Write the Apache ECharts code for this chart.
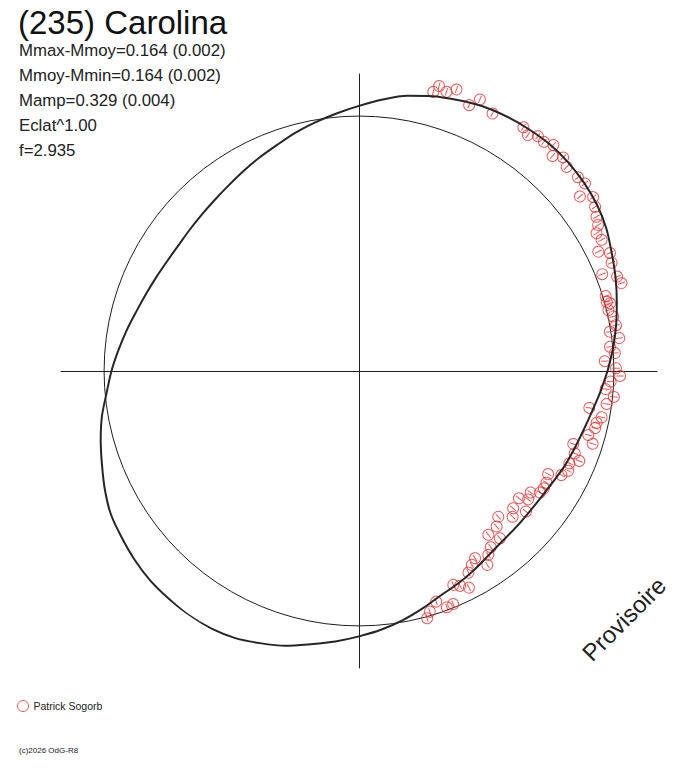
<!DOCTYPE html>
<html>
<head>
<meta charset="utf-8">
<script src="https://cdn.jsdelivr.net/npm/echarts@6/dist/echarts.min.js"></script>
<style>
html,body{margin:0;padding:0;background:#fff;}
#chart{width:688px;height:768px;}
</style>
</head>
<body>
<div id="chart"></div>
<script>
// Title and statistics
var titleText = '(235) Carolina';
var statLines = ['Mmax-Mmoy=0.164 (0.002)', 'Mmoy-Mmin=0.164 (0.002)', 'Mamp=0.329 (0.004)', 'Eclat^1.00', 'f=2.935'];
var observer = 'Patrick Sogorb';
var stampText = 'Provisoire';
var footerText = '(c)2026 OdG-R8';

// Model light curve (phase in degrees, relative radius; reference circle = 1)
var curvePhase = [0,5,10,15,20,25,30,35,40,45,50,55,60,65,70,75,80,85,90,95,100,105,110,115,120,125,130,135,140,145,150,155,160,165,170,175,180,185,190,195,200,205,210,215,220,225,230,235,240,245,250,255,260,265,270,275,280,285,290,295,300,305,310,315,320,325,330,335,340,345,350,355,360];
var curveRadius = [0.975,1.000,1.024,1.047,1.071,1.094,1.120,1.139,1.151,1.159,1.162,1.159,1.154,1.146,1.131,1.116,1.096,1.069,1.040,1.014,0.990,0.967,0.943,0.924,0.906,0.890,0.878,0.870,0.865,0.863,0.867,0.876,0.888,0.904,0.925,0.947,0.971,0.994,1.024,1.049,1.073,1.100,1.124,1.137,1.150,1.160,1.164,1.168,1.165,1.155,1.136,1.116,1.088,1.065,1.041,1.018,0.992,0.964,0.937,0.920,0.902,0.884,0.873,0.869,0.867,0.869,0.876,0.888,0.898,0.910,0.927,0.950,0.975];

// Observations
var obsPhase = [75.1,74.3,72.6,70.9,69.1,67.5,66.0,64.5,62.6,61.0,59.2,57.6,56.0,54.4,52.7,51.1,49.3,48.0,46.3,44.5,43.0,41.5,39.7,38.3,36.6,34.8,33.0,31.4,30.1,28.4,26.5,25.2,23.2,21.7,20.1,18.5,16.9,15.1,15.6,13.7,12.1,10.1,8.9,7.2,5.5,4.0,2.3,0.6,358.9,357.6,355.8,354.2,352.4,350.9,349.2,347.7,346.4,344.4,342.7,341.2,339.1,337.8,336.3,334.5,332.8,331.4,329.2,327.6,326.1,324.7,321.5,322.8,318.3,316.5,319.9,313.7,311.5,308.3,310.1,306.8,305.1,301.8,300.2,303.5,298.5,293.8,295.2,296.9,288.5,292.0,290.4,286.4,285.4];
var obsRadius = [1.133,1.161,1.148,1.169,1.175,1.129,1.166,1.199,1.138,1.182,1.183,1.178,1.153,1.138,1.158,1.155,1.169,1.135,1.159,1.142,1.175,1.147,1.152,1.104,1.144,1.128,1.111,1.099,1.077,1.082,1.049,1.088,1.078,1.027,1.078,1.086,1.011,1.020,1.009,1.007,1.020,1.024,0.996,1.029,0.989,1.006,0.965,1.008,1.024,0.988,0.970,1.005,0.980,0.915,0.969,0.954,0.953,0.934,0.960,0.888,0.906,0.933,0.901,0.909,0.893,0.845,0.856,0.859,0.855,0.825,0.802,0.833,0.810,0.831,0.856,0.791,0.815,0.819,0.858,0.863,0.882,0.864,0.880,0.912,0.900,0.917,0.931,0.953,0.954,0.986,0.989,0.984,1.006];

var radiusMax = 1.169;
var RED = '#f02a2a';
var INK = '#1e1e1e';
var FONT = '"Liberation Sans", Arial, sans-serif';

var curveData = curvePhase.map(function (p, i) { return [curveRadius[i], p]; });
var obsData = obsPhase.map(function (p, i) {
  return { value: [obsRadius[i], p], symbolRotate: p };
});

var chart = echarts.init(document.getElementById('chart'), null, { renderer: 'svg' });
chart.setOption({
  backgroundColor: '#fff',
  animation: false,
  title: [
    { text: titleText, left: 18, top: 5, padding: 0,
      textStyle: { fontFamily: FONT, fontSize: 33, lineHeight: 34, fontWeight: 'normal', color: '#111' } },
    { text: statLines.join('\n'), left: 19, top: 38, padding: 0,
      textStyle: { fontFamily: FONT, fontSize: 16.8, lineHeight: 25, fontWeight: 'normal', color: '#222' } }
  ],
  legend: {
    left: 17, top: 700, padding: 0, itemWidth: 11, itemHeight: 11, selectedMode: false,
    textStyle: { fontFamily: FONT, fontSize: 10.5, color: '#222' },
    data: [{ name: observer, icon: 'circle',
      itemStyle: { color: 'rgba(0,0,0,0)', borderColor: RED, borderWidth: 1 } }]
  },
  grid: { left: 61, right: 31, top: 74, bottom: 100 },
  xAxis: { type: 'value', min: -1, max: 1,
    axisLine: { onZero: true, lineStyle: { color: INK, width: 1 } },
    axisTick: { show: false }, axisLabel: { show: false }, splitLine: { show: false } },
  yAxis: { type: 'value', min: -1, max: 1,
    axisLine: { onZero: true, lineStyle: { color: INK, width: 1 } },
    axisTick: { show: false }, axisLabel: { show: false }, splitLine: { show: false } },
  polar: { center: [359, 371], radius: 298 },
  angleAxis: { type: 'value', min: 0, max: 360, startAngle: 0, clockwise: false, show: false },
  radiusAxis: { type: 'value', min: 0, max: radiusMax, interval: 1,
    axisLine: { show: false }, axisTick: { show: false }, axisLabel: { show: false },
    splitLine: { show: true, lineStyle: { width: 1, color: ['rgba(0,0,0,0)', INK, 'rgba(0,0,0,0)'] } } },
  graphic: [
    { type: 'text', x: 624, y: 619, rotation: Math.PI / 4,
      style: { text: stampText, fontFamily: FONT, fontSize: 24, fill: '#222', align: 'center', verticalAlign: 'middle' } },
    { type: 'text', x: 19, y: 746,
      style: { text: footerText, fontFamily: FONT, fontSize: 8, fill: '#222' } }
  ],
  series: [
    { name: 'model', type: 'line', coordinateSystem: 'polar', data: curveData,
      showSymbol: false, smooth: 0.3, silent: true,
      lineStyle: { color: '#262626', width: 2 } },
    { name: observer, type: 'scatter', coordinateSystem: 'polar', data: obsData,
      symbol: 'path://M-5,0A5,5,0,1,1,5,0A5,5,0,1,1,-5,0ZM-3.4,0L3.4,0', symbolSize: 11,
      itemStyle: { color: 'rgba(0,0,0,0)', borderColor: RED, borderWidth: 1 } }
  ]
});
</script>
</body>
</html>
